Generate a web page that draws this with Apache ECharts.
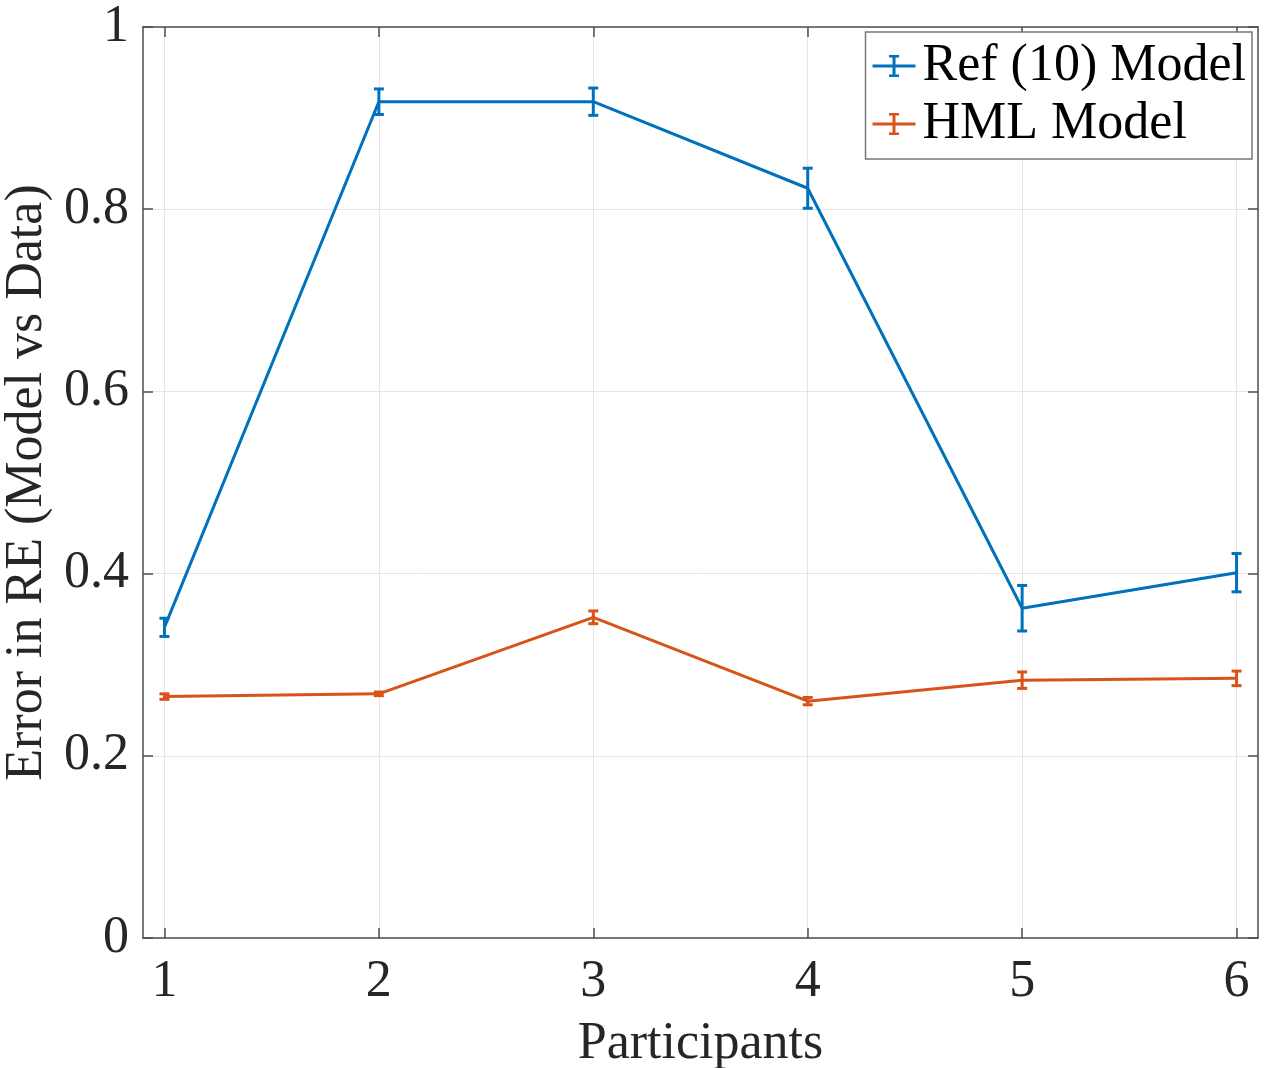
<!DOCTYPE html>
<html>
<head>
<meta charset="utf-8">
<title>Error in RE</title>
<script src="https://cdn.jsdelivr.net/npm/echarts@6/dist/echarts.min.js"></script>
<style>
  html, body { margin: 0; padding: 0; background: #fff; }
  #chart { width: 1265px; height: 1068px; }
</style>
</head>
<body>
<div id="chart"></div>
<script>
// datos
const participants = [1, 2, 3, 4, 5, 6];
const xTicks = [1, 2, 3, 4, 5, 6];
const refMean = [0.341, 0.918, 0.918, 0.823, 0.362, 0.401];
const refErr = [0.010, 0.014, 0.015, 0.022, 0.025, 0.021];
const hmlMean = [0.265, 0.268, 0.352, 0.260, 0.283, 0.285];
const hmlErr = [0.003, 0.002, 0.007, 0.004, 0.009, 0.008];

const blue = '#0072BD';
const orange = '#D95319';
const axisColor = '#4d4d4d';
const font = '"Liberation Serif", "Times New Roman", serif';

// icono de la leyenda: línea con barra de error
const errIcon = 'path://M0,9.5H43V12.5H0Z M20,1H23V21H20Z M16.5,0H26.5V2.5H16.5Z M16.5,19.5H26.5V22H16.5Z';

function errorBars(color) {
    return function(params, api) {
        const x = api.value(0);
        const top = api.coord([x, api.value(2)]);
        const bot = api.coord([x, api.value(1)]);
        const cap = 5;
        const st = { stroke: color, lineWidth: 3 };
        return {
            type: 'group',
            children: [
                { type: 'line', shape: { x1: top[0], y1: top[1], x2: bot[0], y2: bot[1] }, style: st },
                { type: 'line', shape: { x1: top[0] - cap, y1: top[1], x2: top[0] + cap, y2: top[1] }, style: st },
                { type: 'line', shape: { x1: bot[0] - cap, y1: bot[1], x2: bot[0] + cap, y2: bot[1] }, style: st }
            ]
        };
    };
}

function barData(mean, err) {
    return participants.map((p, i) => [p, mean[i] - err[i], mean[i] + err[i]]);
}

const chart = echarts.init(document.getElementById('chart'));

const baseX = {
    type: 'value',
    min: 0.9,
    max: 6.1,
    axisLine: { show: true, onZero: false, lineStyle: { color: axisColor, width: 1.5 } },
    axisTick: { show: true, inside: true, length: 10, customValues: xTicks, lineStyle: { color: axisColor, width: 1.5 } }
};
const baseY = {
    type: 'value',
    min: 0,
    max: 1,
    interval: 0.2,
    axisLine: { show: true, onZero: false, lineStyle: { color: axisColor, width: 1.5 } },
    axisTick: { show: true, inside: true, length: 10, lineStyle: { color: axisColor, width: 1.5 } }
};

const option = {
    backgroundColor: '#fff',
    animation: false,
    grid: { left: 143, right: 7, top: 27, bottom: 130, containLabel: false, outerBoundsMode: 'none' },
    legend: {
        right: 13,
        top: 32,
        orient: 'vertical',
        backgroundColor: '#fff',
        borderColor: '#777',
        borderWidth: 1.5,
        borderRadius: 0,
        padding: [8, 6, 9, 7],
        itemGap: 6,
        itemWidth: 43,
        itemHeight: 22,
        textStyle: { fontFamily: font, fontSize: 52, color: '#000', padding: [0, 0, 0, 2] },
        data: [
            { name: 'Ref (10) Model', icon: errIcon, itemStyle: { color: blue } },
            { name: 'HML Model', icon: errIcon, itemStyle: { color: orange } }
        ]
    },
    xAxis: [
        Object.assign({}, baseX, {
            position: 'bottom',
            name: 'Participants',
            nameLocation: 'middle',
            nameGap: 80,
            nameTextStyle: { fontFamily: font, fontSize: 52, color: '#262626' },
            axisLabel: { customValues: xTicks, margin: 18, fontFamily: font, fontSize: 52, color: '#262626' },
            splitLine: { show: true, lineStyle: { color: '#e6e6e6', width: 1 } }
        }),
        Object.assign({}, baseX, {
            position: 'top',
            axisLabel: { show: false },
            splitLine: { show: false }
        })
    ],
    yAxis: [
        Object.assign({}, baseY, {
            position: 'left',
            name: 'Error in RE (Model vs Data)',
            nameLocation: 'middle',
            nameGap: 84,
            nameTextStyle: { fontFamily: font, fontSize: 52, color: '#262626' },
            axisLabel: { margin: 14, fontFamily: font, fontSize: 52, color: '#262626' },
            splitLine: { show: true, lineStyle: { color: '#e6e6e6', width: 1 } }
        }),
        Object.assign({}, baseY, {
            position: 'right',
            axisLabel: { show: false },
            splitLine: { show: false }
        })
    ],
    series: [
        {
            name: 'Ref (10) Model',
            type: 'line',
            data: participants.map((p, i) => [p, refMean[i]]),
            symbol: 'none',
            lineStyle: { color: blue, width: 3 },
            itemStyle: { color: blue },
            z: 3
        },
        {
            name: 'Ref (10) Model',
            type: 'custom',
            data: barData(refMean, refErr),
            renderItem: errorBars(blue),
            encode: { x: 0, y: [1, 2] },
            z: 4
        },
        {
            name: 'HML Model',
            type: 'line',
            data: participants.map((p, i) => [p, hmlMean[i]]),
            symbol: 'none',
            lineStyle: { color: orange, width: 3 },
            itemStyle: { color: orange },
            z: 3
        },
        {
            name: 'HML Model',
            type: 'custom',
            data: barData(hmlMean, hmlErr),
            renderItem: errorBars(orange),
            encode: { x: 0, y: [1, 2] },
            z: 4
        }
    ]
};

chart.setOption(option);
</script>
</body>
</html>
